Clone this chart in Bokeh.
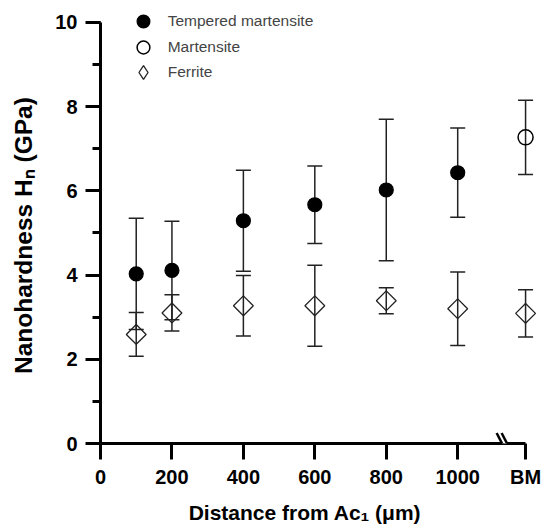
import numpy as np
from bokeh.plotting import figure
from bokeh.models import (ColumnDataSource, Range1d, SingleIntervalTicker, FixedTicker,
                          Whisker, TeeHead, Legend, LegendItem, Arrow)
from bokeh.embed import file_html
from bokeh.resources import INLINE

# ---- data ----
BM_X = 1190          # position used for the base-metal (BM) category
distance = [100, 200, 400, 600, 800, 1000]
tm_mean = [4.03, 4.11, 5.29, 5.67, 6.02, 6.43]
tm_err = [1.32, 1.17, 1.20, 0.92, 1.68, 1.06]

mart_x = [BM_X]
mart_mean = [7.27]
mart_err = [0.88]

fer_x = [100, 200, 400, 600, 800, 1000, BM_X]
fer_mean = [2.59, 3.10, 3.27, 3.27, 3.39, 3.20, 3.09]
fer_err = [0.52, 0.43, 0.72, 0.96, 0.31, 0.87, 0.56]

x_ticks = [0, 200, 400, 600, 800, 1000, BM_X]
x_tick_labels = {BM_X: "BM"}
BREAK_X = 1126

NB = "\u00a0"  # non-breaking spaces used to offset the axis titles

def src(x, m, e):
    m = np.array(m); e = np.array(e)
    return ColumnDataSource(dict(x=x, y=m, upper=m + e, lower=m - e))

s_tm = src(distance, tm_mean, tm_err)
s_m = src(mart_x, mart_mean, mart_err)
s_f = src(fer_x, fer_mean, fer_err)

SANS = "Liberation Sans"

p = figure(width=544, height=526, output_backend="svg", toolbar_location=None,
           x_range=Range1d(0, 1243), y_range=Range1d(0, 10.52),
           min_border_left=100, min_border_right=0, min_border_top=0, min_border_bottom=80)
p.outline_line_color = None
p.xgrid.visible = False
p.ygrid.visible = False
p.background_fill_color = "white"
p.border_fill_color = "white"

# axes
for ax in (p.xaxis[0], p.yaxis[0]):
    ax.axis_line_width = 3
    ax.axis_line_color = "black"
    ax.major_tick_line_width = 3
    ax.minor_tick_line_width = 3
    ax.major_tick_in = 0
    ax.minor_tick_in = 0
    ax.major_label_text_font = SANS
    ax.major_label_text_font_style = "bold"
    ax.major_label_text_font_size = "20px"
    ax.major_label_text_color = "black"
    ax.axis_label_text_font = SANS
    ax.axis_label_text_font_style = "bold"
    ax.axis_label_text_color = "black"

p.yaxis.bounds = (0, 10)
p.yaxis.ticker = SingleIntervalTicker(interval=2, num_minor_ticks=2)
p.yaxis.major_tick_out = 15
p.yaxis.minor_tick_out = 8
p.yaxis.major_label_standoff = 8
p.yaxis.axis_label = "Nanohardness H\u2099 (GPa)" + NB * 4
p.yaxis.axis_label_text_font_size = "24.5px"
p.yaxis.axis_label_standoff = 15

p.xaxis.bounds = (0, BM_X)
p.xaxis.ticker = FixedTicker(ticks=x_ticks, minor_ticks=[])
p.xaxis.major_label_overrides = x_tick_labels
p.xaxis.major_tick_out = 16
p.xaxis.major_label_standoff = 6
p.xaxis.axis_label = "Distance from Ac\u2081 (\u03bcm)" + NB * 6
p.xaxis.axis_label_text_font_size = "21px"
p.xaxis.axis_label_standoff = 10

# error bars
def whisk(s):
    w = Whisker(base="x", upper="upper", lower="lower", source=s, dimension="height",
                line_color="#222222", line_width=1.5, level="underlay",
                upper_head=TeeHead(size=15, line_color="#222222", line_width=1.5),
                lower_head=TeeHead(size=15, line_color="#222222", line_width=1.5))
    p.add_layout(w)

whisk(s_tm)
whisk(s_f)
whisk(s_m)

r_tm = p.scatter("x", "y", source=s_tm, marker="circle", size=14,
                 fill_color="black", line_color="black", line_width=1.2)
r_m = p.scatter("x", "y", source=s_m, marker="circle", size=15,
                fill_alpha=0, line_color="black", line_width=1.5)
r_f = p.scatter("x", "y", source=s_f, marker="square", angle=np.pi / 4, size=14,
                fill_alpha=0, line_color="#222222", line_width=1.3)
# hidden twin of the ferrite series, used only for its legend symbol
r_f_leg = p.scatter("x", "y", source=s_f, marker="diamond", size=14, visible=False,
                    fill_alpha=0, line_color="#222222", line_width=1.3)

# one single-entry legend per row so the symbols can be larger than the row pitch
legend_rows = [("Tempered martensite", r_tm, 405.8, 32),
               ("Martensite", r_m, 380.2, 32),
               ("Ferrite", r_f_leg, 354.8, 34)]
for label, rend, ly, g in legend_rows:
    half = (g - 32) // 2
    p.add_layout(Legend(items=[LegendItem(label=label, renderers=[rend])],
                        location=(42.7 - g / 2, ly - half), padding=0, margin=0, spacing=0,
                        glyph_width=int(g), glyph_height=int(g), label_standoff=int(9 - half),
                        label_text_font=SANS, label_text_font_size="15.5px",
                        border_line_color=None, background_fill_alpha=0))

# axis break
p.add_layout(Arrow(end=None, x_start=BREAK_X - 2, y_start=0, x_end=BREAK_X + 12, y_end=0,
                   line_color="white", line_width=5))
for dx in (0, 14):
    p.add_layout(Arrow(end=None, x_start=BREAK_X - 17 + dx, y_start=0.25,
                       x_end=BREAK_X + 3 + dx, y_end=-0.08,
                       line_color="black", line_width=2.5))

open("out.html", "w").write(file_html(p, INLINE))
